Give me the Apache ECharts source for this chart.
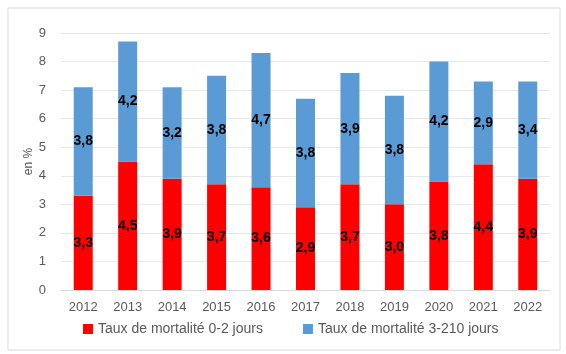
<!DOCTYPE html>
<html><head><meta charset="utf-8">
<script src="https://cdn.jsdelivr.net/npm/echarts@6/dist/echarts.min.js"></script>
<style>html,body{margin:0;padding:0;background:#fff}#c{width:566px;height:354px}</style>
</head><body><div id="c"></div>
<script>
const years = ['2012','2013','2014','2015','2016','2017','2018','2019','2020','2021','2022'];
const rate02 = [3.3,4.5,3.9,3.7,3.6,2.9,3.7,3.0,3.8,4.4,3.9];
const rate3210 = [3.8,4.2,3.2,3.8,4.7,3.8,3.9,3.8,4.2,2.9,3.4];
const yTicks = [0,1,2,3,4,5,6,7,8,9];
const seriesNames = ['Taux de mortalité 0-2 jours','Taux de mortalité 3-210 jours'];

const chart = echarts.init(document.getElementById('c'));
const lbl = {
  show: true, position: 'inside', color: '#000', fontWeight: 'bold', fontSize: 14,
  fontFamily: 'Liberation Sans, Arial', formatter: p => p.value.toFixed(1).replace('.', ',')
};
chart.setOption({
  animation: false,
  backgroundColor: '#fff',
  graphic: [{type:'rect', shape:{x:8,y:8,width:552,height:342}, style:{fill:'none', stroke:'#d9d9d9', lineWidth:1}}],
  grid: {left: 61, right: 16, top: 33, bottom: 64},
  xAxis: {
    type: 'category', data: years,
    axisLine: {lineStyle: {color: '#d9d9d9'}}, axisTick: {show: false},
    axisLabel: {color: '#595959', fontSize: 13, margin: 11, fontFamily: 'Liberation Sans, Arial'}
  },
  yAxis: {
    type: 'value', min: yTicks[0], max: yTicks[yTicks.length-1], interval: 1,
    name: 'en %', nameLocation: 'middle', nameGap: 26, nameRotate: 90, nameMoveOverlap: false,
    nameTextStyle: {color: '#595959', fontSize: 12, fontFamily: 'Liberation Sans, Arial'},
    axisLine: {show: false}, axisTick: {show: false},
    axisLabel: {color: '#595959', fontSize: 13, margin: 15, fontFamily: 'Liberation Sans, Arial'},
    splitLine: {lineStyle: {color: '#e8e8e8'}}
  },
  legend: {
    bottom: 13, left: 78, itemWidth: 10, itemHeight: 10, itemGap: 40, icon: 'rect',
    textStyle: {color: '#595959', fontSize: 14, fontFamily: 'Liberation Sans, Arial'},
    data: seriesNames
  },
  series: [
    {name: seriesNames[0], type: 'bar', stack: 't', data: rate02, barWidth: 19, itemStyle: {color: '#ff0000'}, label: lbl},
    {name: seriesNames[1], type: 'bar', stack: 't', data: rate3210, barWidth: 19, itemStyle: {color: '#5b9bd5'}, label: lbl}
  ]
});
</script></body></html>
